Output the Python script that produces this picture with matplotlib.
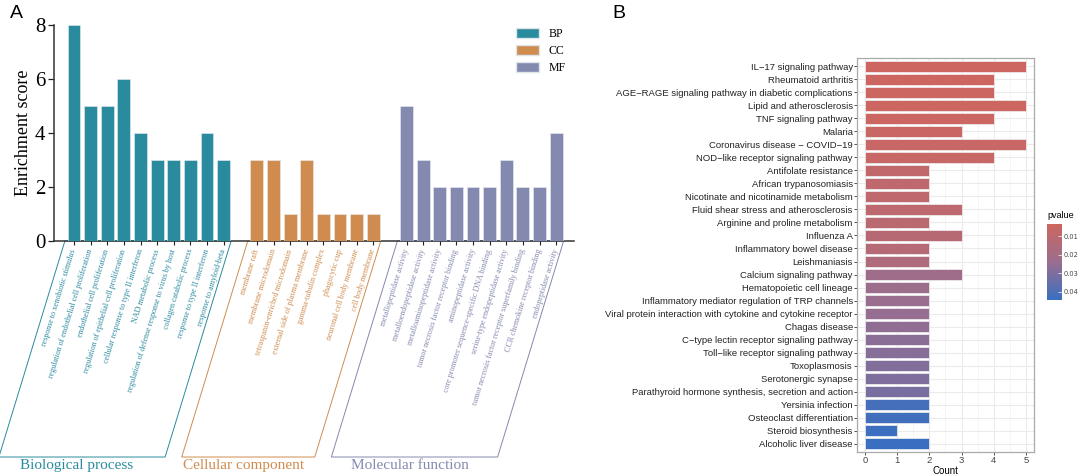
import numpy as np
import matplotlib
matplotlib.use('Agg')
import matplotlib.pyplot as plt
from matplotlib.colors import LinearSegmentedColormap, Normalize
from matplotlib.cm import ScalarMappable
from matplotlib.patches import Patch, Polygon

# ---- panel A data (GO enrichment) ----
bp_terms = ['response to xenobiotic stimulus', 'regulation of endothelial cell proliferation',
            'endothelial cell proliferation', 'regulation of epithelial cell proliferation',
            'cellular response to type II interferon', 'NAD metabolic process',
            'regulation of defense response to virus by host', 'collagen catabolic process',
            'response to type II interferon', 'response to amyloid-beta']
bp_scores = [8, 5, 5, 6, 4, 3, 3, 3, 4, 3]
cc_terms = ['membrane raft', 'membrane microdomain', 'tetraspanin-enriched microdomain',
            'external side of plasma membrane', 'gamma-tubulin complex', 'phagocytic cup',
            'neuronal cell body membrane', 'cell body membrane']
cc_scores = [3, 3, 1, 3, 1, 1, 1, 1]
mf_terms = ['metallopeptidase activity', 'metalloendopeptidase activity',
            'metalloaminopeptidase activity', 'tumor necrosis factor receptor binding',
            'aminopeptidase activity', 'core promoter sequence-specific DNA binding',
            'serine-type endopeptidase activity', 'tumor necrosis factor receptor superfamily binding',
            'CCR chemokine receptor binding', 'endopeptidase activity']
mf_scores = [5, 3, 2, 2, 2, 2, 3, 2, 2, 4]

# ---- panel B data (KEGG) ----
kegg_terms = ['IL\u221217 signaling pathway', 'Rheumatoid arthritis',
              'AGE\u2212RAGE signaling pathway in diabetic complications', 'Lipid and atherosclerosis',
              'TNF signaling pathway', 'Malaria', 'Coronavirus disease \u2212 COVID\u221219',
              'NOD\u2212like receptor signaling pathway', 'Antifolate resistance',
              'African trypanosomiasis', 'Nicotinate and nicotinamide metabolism',
              'Fluid shear stress and atherosclerosis', 'Arginine and proline metabolism',
              'Influenza A', 'Inflammatory bowel disease', 'Leishmaniasis',
              'Calcium signaling pathway', 'Hematopoietic cell lineage',
              'Inflammatory mediator regulation of TRP channels',
              'Viral protein interaction with cytokine and cytokine receptor', 'Chagas disease',
              'C\u2212type lectin receptor signaling pathway', 'Toll\u2212like receptor signaling pathway',
              'Toxoplasmosis', 'Serotonergic synapse',
              'Parathyroid hormone synthesis, secretion and action', 'Yersinia infection',
              'Osteoclast differentiation', 'Steroid biosynthesis', 'Alcoholic liver disease']
kegg_counts = [5, 4, 4, 5, 4, 3, 5, 4, 2, 2, 2, 3, 2, 3, 2, 2, 3, 2, 2, 2, 2, 2, 2, 2, 2, 2, 2, 2, 1, 2]
kegg_pvalues = [0.0035, 0.0036, 0.0038, 0.0040, 0.0042, 0.0050, 0.0055, 0.0060, 0.0080, 0.0090,
                0.0090, 0.0100, 0.0110, 0.0120, 0.0130, 0.0150, 0.0220, 0.0230, 0.0240, 0.0250,
                0.0260, 0.0270, 0.0280, 0.0290, 0.0300, 0.0310, 0.0420, 0.0430, 0.0440, 0.0445]

serif = ['Liberation Serif', 'DejaVu Serif']
sans = ['Liberation Sans', 'DejaVu Sans']

col_bp, col_cc, col_mf = '#2A8A9E', '#CF8C4E', '#8489AF'

fig = plt.figure(figsize=(10.8, 4.76), dpi=100)

# ================= panel A =================
ax1 = fig.add_axes([0.0496, 0.4937, 0.4815, 0.4538])
groups = [(bp_terms, bp_scores, col_bp, 'Biological process'),
          (cc_terms, cc_scores, col_cc, 'Cellular component'),
          (mf_terms, mf_scores, col_mf, 'Molecular function')]
xpos_all, lab_all, col_all = [], [], []
start = 0
shift = 3.97   # horizontal slant of the brackets (slots)
ybot = -8.0
for terms, scores, c, gname in groups:
    x = np.arange(start, start + len(terms))
    ax1.bar(x, scores, width=0.78, color=c, edgecolor='#E8EEF0', linewidth=0.4, zorder=3)
    xpos_all += list(x)
    lab_all += terms
    col_all += [c] * len(terms)
    # slanted bracket under the tick labels
    x0, x1 = x[0] - 0.55, x[-1] + 0.45
    poly = Polygon([[x0, 0], [x1, 0], [x1 - shift, ybot], [x0 - shift, ybot]],
                   closed=True, fill=False, edgecolor=c, linewidth=0.7, clip_on=False)
    ax1.add_patch(poly)
    ax1.text((x0 + x1) / 2 - shift - 0.3, ybot - 0.33, gname, color=c, family=serif,
             fontsize=11, ha='center', va='center', clip_on=False)
    start += len(terms) + 1

ax1.set_xlim(-1.23, 30.05)
ax1.set_ylim(0, 8)
ax1.set_xticks(xpos_all)
ax1.set_xticklabels(lab_all, rotation=73, ha='right', va='center', rotation_mode='anchor',
                    family=serif, fontsize=5.8)
for t, c in zip(ax1.get_xticklabels(), col_all):
    t.set_color(c)
ax1.tick_params(axis='x', length=3, width=0.8, pad=3, color='#222222')
ax1.set_yticks([0, 2, 4, 6, 8])
ax1.set_yticklabels(['0', '2', '4', '6', '8'], family=serif, fontsize=15)
ax1.tick_params(axis='y', length=4, width=0.9, pad=2, color='#222222')
ax1.set_ylabel('Enrichment score', family=serif, fontsize=13, labelpad=2)
for s in ['top', 'right']:
    ax1.spines[s].set_visible(False)
for s in ['left', 'bottom']:
    ax1.spines[s].set_linewidth(1.1)
    ax1.spines[s].set_color('#333333')

handles = [Patch(facecolor=col_bp, edgecolor='#DDE6EA', label='BP'),
           Patch(facecolor=col_cc, edgecolor='#DDE6EA', label='CC'),
           Patch(facecolor=col_mf, edgecolor='#DDE6EA', label='MF')]
ax1.legend(handles=handles, loc='upper left', bbox_to_anchor=(0.89, 0.985), frameon=False,
           prop={'family': serif, 'size': 8.5}, handlelength=1.9, handleheight=0.9,
           handletextpad=0.8, labelspacing=0.4, borderaxespad=0, borderpad=0)

# ================= panel B =================
cmap = LinearSegmentedColormap.from_list('pv', ['#CD6660', '#9A6E8E', '#3A6FC0'])
norm = Normalize(vmin=0.0033, vmax=0.0445)

ax2 = fig.add_axes([0.7935, 1 - 452 / 476, 0.1639, (452 - 58) / 476])
ypos = np.arange(len(kegg_terms))
ax2.barh(ypos, kegg_counts, height=0.88, color=cmap(norm(np.array(kegg_pvalues))),
         edgecolor='#F2F2F2', linewidth=0.5, zorder=3)
ax2.set_ylim(len(kegg_terms) - 0.35, -0.65)
ax2.set_xlim(-0.25, 5.25)
ax2.set_yticks(ypos)
ax2.set_yticklabels(kegg_terms, family=sans, fontsize=6.8, color='#222222')
ax2.set_xticks(range(6))
ax2.set_xticklabels([str(v) for v in range(6)], family=sans, fontsize=6.8, color='#444444')
ax2.set_xticks(np.arange(0.5, 5, 1), minor=True)
ax2.grid(which='major', color='#EBEBEB', linewidth=0.8, zorder=0)
ax2.grid(which='minor', axis='x', color='#F2F2F2', linewidth=0.5, zorder=0)
ax2.tick_params(which='major', length=2, width=0.6, color='#333333', pad=1)
ax2.tick_params(which='minor', length=0)
ax2.set_xlabel('Count', family=sans, fontsize=7, labelpad=0.5)
for s in ax2.spines.values():
    s.set_color('#AAAAAA')
    s.set_linewidth(0.9)
ax2.set_axisbelow(True)

cax = fig.add_axes([1047 / 1080, 1 - 300 / 476, 15 / 1080, 76 / 476])
cb = fig.colorbar(ScalarMappable(norm=norm, cmap=cmap), cax=cax)
cb.set_ticks([0.01, 0.02, 0.03, 0.04])
cb.set_ticklabels(['0.01', '0.02', '0.03', '0.04'])
cax.invert_yaxis()
cb.outline.set_visible(False)
cax.tick_params(length=3, width=0.5, color='white', direction='in', labelsize=4.8,
                labelcolor='#444444', pad=1.5)
cax.set_title('pvalue', family=sans, fontsize=6.5, loc='left', pad=4)

fig.text(10 / 1080, 1 - 14 / 476, 'A', family=sans, fontsize=14, va='center', ha='left')
fig.text(612 / 1080, 1 - 14 / 476, 'B', family=sans, fontsize=14, va='center', ha='left')

plt.savefig('out.png', dpi=100)
